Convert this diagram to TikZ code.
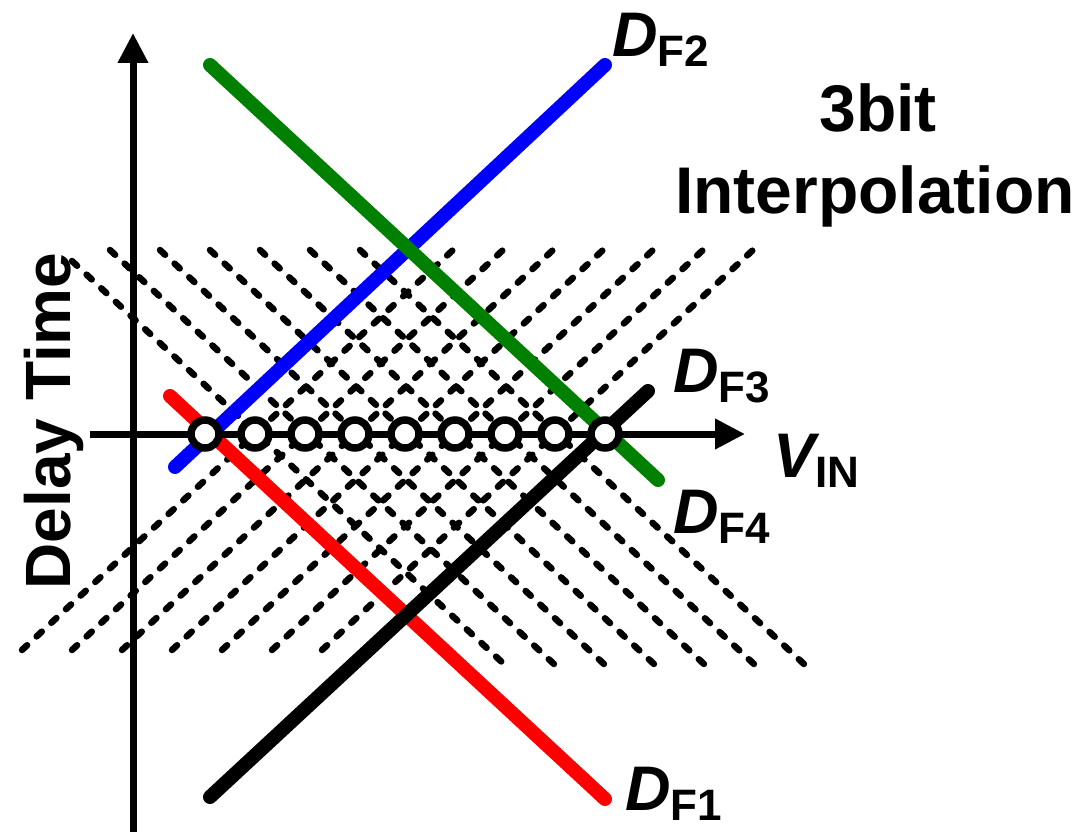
\documentclass[tikz,border=0pt]{standalone}
\usepackage{fontspec}
\setmainfont{Liberation Sans}
\usetikzlibrary{arrows.meta}
\definecolor{dgreen}{RGB}{0,128,0}
\newcommand\mylab[2]{{\fontsize{63}{63}\selectfont\bfseries\itshape #1}\raisebox{-10pt}{\fontsize{44}{44}\selectfont\bfseries #2}}
\begin{document}
\begin{tikzpicture}[x=1pt,y=-1pt,
  axis/.style={line width=7pt,-{Triangle[length=30pt,width=29pt]}},
  curve/.style={line width=14pt,line cap=round},
  gridline/.style={line width=6.5pt,line cap=round,dash pattern=on 7pt off 13pt},
  dot/.style={circle,draw,fill=white,line width=7.5pt,minimum size=28pt,inner sep=0pt},
  lbl/.style={anchor=base west,inner sep=0pt},
  big/.style={font=\fontsize{66}{66}\selectfont\bfseries,inner sep=0pt,anchor=base},
]
\useasboundingbox (0,0) rectangle (1085,832);
% dashed interpolation grid
\draw[gridline] (72,261) -- (505,665);
\foreach \k in {1,...,6} \draw[gridline] (60+50*\k,250) -- (505+50*\k,665);
\foreach \k in {0,...,6} \draw[gridline] (22+50*\k,650) -- (453+50*\k,250);
% delay lines
\coordinate (b1) at (175,467); \coordinate (b2) at (605,65);
\coordinate (r1) at (170,396); \coordinate (r2) at (605,799);
\coordinate (g1) at (210,65);  \coordinate (g2) at (658,480);
\coordinate (k1) at (210,797); \coordinate (k2) at (648,391);
\draw[curve,blue] (b1) -- (b2);
\draw[curve,red] (r1) -- (r2);
\draw[curve,dgreen] (g1) -- (g2);
\draw[curve,black] (k1) -- (k2);
% axes
\coordinate (yo) at (133,832); \coordinate (yt) at (133,33);
\coordinate (xo) at (90,434);  \coordinate (xt) at (745,434);
\draw[axis] (yo) -- (yt);
\draw[axis] (xo) -- (xt);
% circles
\foreach \i in {0,...,8} \node[dot] (c\i) at (205+50*\i,434) {};
% labels
\node[lbl] (lf2) at (612,57) {\mylab{D}{F2}};
\node[lbl] (lf3) at (673,392) {\mylab{D}{F3}};
\node[lbl] (lf4) at (673,533) {\mylab{D}{F4}};
\node[lbl] (lvin) at (773,477) {\mylab{V}{IN}};
\node[lbl] (lf1) at (625,810) {\mylab{D}{F1}};
\node[big] (t1) at (878,132) {3bit};
\node[big] (t2) at (875,213) {Interpolation};
\node[big,rotate=90,font=\fontsize{64}{64}\selectfont\bfseries] (ylab) at (70,421) {Delay Time};
\end{tikzpicture}
\end{document}
